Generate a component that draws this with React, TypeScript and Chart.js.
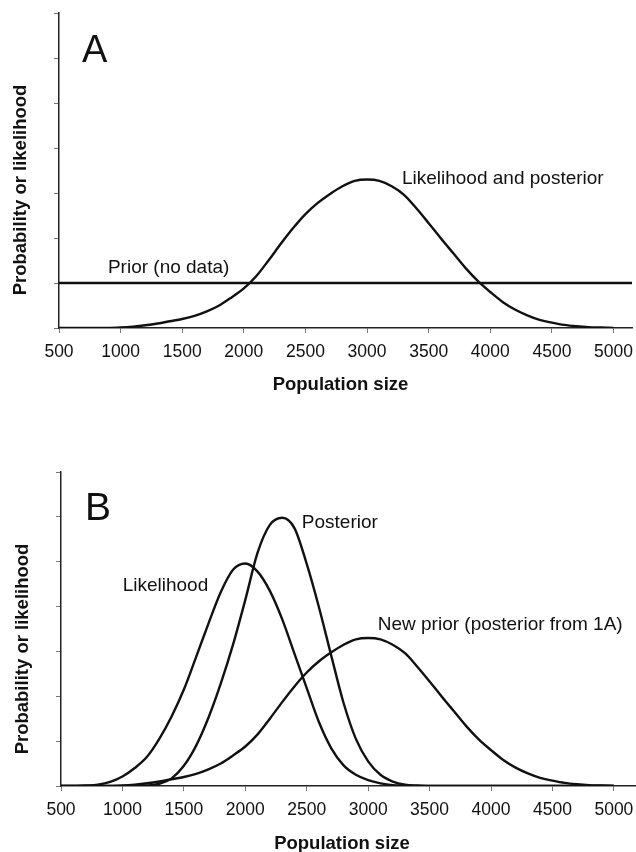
import React, { useEffect, useRef } from "react";
import { Chart, registerables } from "chart.js";

Chart.register(...registerables);

const FONT = '"Liberation Sans", Arial, Helvetica, sans-serif';
const INK = "#111";

// x positions of the curve samples (population size)
const xValues = [
  500, 600, 700, 800, 900, 1000, 1100, 1200, 1300, 1400, 1500, 1600, 1700, 1800, 1900,
  2000, 2100, 2200, 2300, 2400, 2500, 2600, 2700, 2800, 2900, 3000, 3100, 3200, 3300, 3400,
  3500, 3600, 3700, 3800, 3900, 4000, 4100, 4200, 4300, 4400, 4500, 4600, 4700, 4800, 4900,
  5000,
];

const xTicks = [500, 1000, 1500, 2000, 2500, 3000, 3500, 4000, 4500, 5000];
const yTicks = [0, 1, 2, 3, 4, 5, 6, 7];

// Panel A
const priorAX = [500, 5150];
const priorAY = [1, 1];
const posteriorA = [
  0, 0, 0, 0, 0, 0.01, 0.03, 0.06, 0.1, 0.15, 0.2, 0.27, 0.37, 0.5, 0.68,
  0.88, 1.15, 1.5, 1.87, 2.22, 2.53, 2.78, 2.98, 3.15, 3.27, 3.3, 3.27, 3.15, 2.96, 2.66,
  2.33, 1.99, 1.66, 1.33, 1.04, 0.8, 0.58, 0.41, 0.28, 0.18, 0.12, 0.07, 0.04, 0.02, 0.01,
  0,
];

// Panel B
const likelihoodB = [
  0, 0, 0.01, 0.03, 0.09, 0.21, 0.4, 0.65, 1.05, 1.55, 2.15, 2.88, 3.62, 4.32, 4.82,
  4.96, 4.78, 4.35, 3.72, 2.95, 2.18, 1.42, 0.84, 0.46, 0.25, 0.13, 0.06, 0.02, 0.01, 0,
  0, 0, 0, 0, 0, 0, 0, 0, 0, 0, 0, 0, 0, 0, 0,
  0,
];
const posteriorB = [
  0, 0, 0, 0, 0, 0, 0, 0.01, 0.05, 0.17, 0.45, 0.9, 1.52, 2.28, 3.15,
  4.15, 5.2, 5.82, 5.98, 5.75, 4.95, 3.98, 2.9, 1.85, 1.05, 0.55, 0.25, 0.1, 0.03, 0.01,
  0, 0, 0, 0, 0, 0, 0, 0, 0, 0, 0, 0, 0, 0, 0,
  0,
];
// the new prior is the posterior from panel A
const newPriorB = posteriorA;

type Label = { text: string; x: number; y: number; size: number };

const labelsA: Label[] = [
  { text: "A", x: 687, y: 5.91, size: 38 },
  { text: "Prior (no data)", x: 897, y: 1.22, size: 19 },
  { text: "Likelihood and posterior", x: 3283, y: 3.2, size: 19 },
];
const labelsB: Label[] = [
  { text: "B", x: 695, y: 5.93, size: 39 },
  { text: "Likelihood", x: 1002, y: 4.35, size: 19 },
  { text: "Posterior", x: 2460, y: 5.76, size: 19 },
  { text: "New prior (posterior from 1A)", x: 3078, y: 3.48, size: 19 },
];

const xTitle = "Population size";
const yTitle = "Probability or likelihood";

type Series = { xs: number[]; ys: number[] };

type PanelCfg = {
  top: number;
  height: number;
  padTop: number;
  padRight: number;
  yWidth: number;
  xHeight: number;
  xMax: number;
  series: Series[];
  labels: Label[];
  xTitlePos: { x: number; y: number };
  yTitlePos: { x: number; y: number };
};

const panelA: PanelCfg = {
  top: 0,
  height: 410,
  padTop: 13,
  padRight: 4,
  yWidth: 59,
  xHeight: 82,
  xMax: 5150,
  series: [
    { xs: priorAX, ys: priorAY },
    { xs: xValues, ys: posteriorA },
  ],
  labels: labelsA,
  xTitlePos: { x: 340.5, y: 385 },
  yTitlePos: { x: 21, y: 190 },
};

const panelB: PanelCfg = {
  top: 420,
  height: 432,
  padTop: 52,
  padRight: 0,
  yWidth: 61,
  xHeight: 66,
  xMax: 5180,
  series: [
    { xs: xValues, ys: likelihoodB },
    { xs: xValues, ys: posteriorB },
    { xs: xValues, ys: newPriorB },
  ],
  labels: labelsB,
  xTitlePos: { x: 342, y: 423.5 },
  yTitlePos: { x: 23, y: 229 },
};

function makeTextPlugin(cfg: PanelCfg) {
  return {
    id: "panelText",
    afterDraw(chart: any) {
      const { ctx, scales } = chart;
      ctx.save();
      ctx.fillStyle = INK;
      ctx.textAlign = "left";
      ctx.textBaseline = "alphabetic";
      for (const l of cfg.labels) {
        ctx.font = `${l.size}px ${FONT}`;
        ctx.fillText(l.text, scales.x.getPixelForValue(l.x), scales.y.getPixelForValue(l.y));
      }
      ctx.font = `bold 18.5px ${FONT}`;
      ctx.textAlign = "center";
      ctx.textBaseline = "middle";
      ctx.fillText(xTitle, cfg.xTitlePos.x, cfg.xTitlePos.y);
      ctx.translate(cfg.yTitlePos.x, cfg.yTitlePos.y);
      ctx.rotate(-Math.PI / 2);
      ctx.fillText(yTitle, 0, 0);
      ctx.restore();
    },
  };
}

function Panel({ cfg }: { cfg: PanelCfg }) {
  const ref = useRef<HTMLCanvasElement | null>(null);
  useEffect(() => {
    if (!ref.current) return;
    const grid = {
      display: true,
      drawOnChartArea: false,
      drawTicks: true,
      tickLength: 5,
      color: "#777",
      lineWidth: 1,
    };
    const border = { display: true, color: "#222", width: 1.5 };
    const chart = new Chart(ref.current, {
      type: "line",
      data: {
        datasets: cfg.series.map((s) => ({
          data: s.xs.map((x, i) => ({ x, y: s.ys[i] })),
          borderColor: INK,
          borderWidth: 2.4,
          pointRadius: 0,
          fill: false,
          cubicInterpolationMode: "monotone" as const,
        })),
      },
      options: {
        responsive: false,
        animation: false,
        layout: { padding: { top: cfg.padTop, right: cfg.padRight, left: 0, bottom: 0 } },
        plugins: { legend: { display: false }, tooltip: { enabled: false } },
        scales: {
          x: {
            type: "linear",
            min: 500,
            max: cfg.xMax,
            afterFit: (s: any) => {
              s.height = cfg.xHeight;
              s.paddingLeft = 0;
              s.paddingRight = 0;
            },
            afterBuildTicks: (s: any) => {
              s.ticks = xTicks.map((v) => ({ value: v }));
            },
            ticks: {
              callback: (v: any) => String(v),
              font: { family: FONT, size: 17.5 },
              color: INK,
              padding: 9,
              maxRotation: 0,
              autoSkip: false,
            },
            grid,
            border,
          },
          y: {
            type: "linear",
            min: 0,
            max: 7,
            afterFit: (s: any) => {
              s.width = cfg.yWidth;
              s.paddingTop = 0;
              s.paddingBottom = 0;
            },
            afterBuildTicks: (s: any) => {
              s.ticks = yTicks.map((v) => ({ value: v }));
            },
            ticks: { display: false },
            grid,
            border,
          },
        },
      },
      plugins: [makeTextPlugin(cfg)],
    } as any);
    return () => chart.destroy();
  }, [cfg]);
  return (
    <div style={{ position: "absolute", left: 0, top: cfg.top, width: 636, height: cfg.height }}>
      <canvas ref={ref} width={636} height={cfg.height} style={{ display: "block" }} />
    </div>
  );
}

export default function App() {
  return (
    <div
      style={{
        position: "absolute",
        left: 0,
        top: 0,
        width: 636,
        height: 852,
        background: "#fff",
        overflow: "hidden",
      }}
    >
      <Panel cfg={panelA} />
      <Panel cfg={panelB} />
    </div>
  );
}
